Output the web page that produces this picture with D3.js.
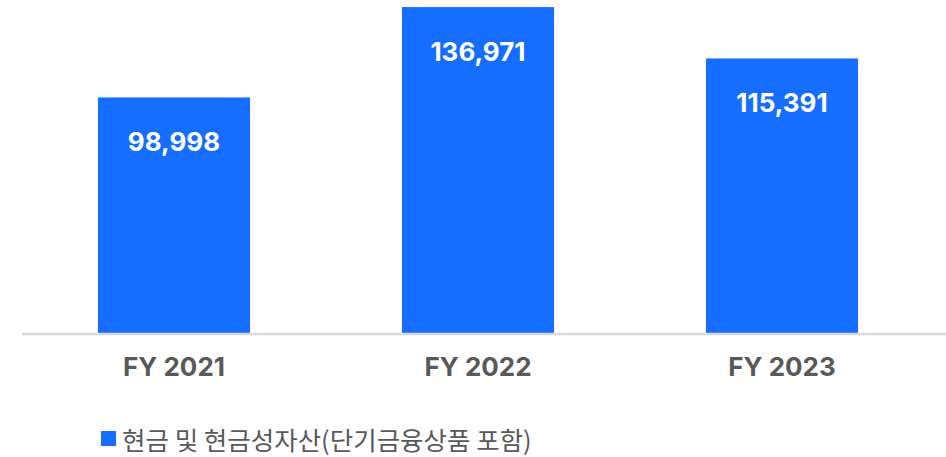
<!DOCTYPE html>
<html>
<head>
<meta charset="utf-8">
<script src="https://cdn.jsdelivr.net/npm/d3@7"></script>
<style>
  body { margin: 0; background: #fff; }
  svg { display: block; }
</style>
</head>
<body>
<div id="chart"></div>
<script>
// Data
const categories = ["FY 2021", "FY 2022", "FY 2023"];
const values = [98998, 136971, 115391];
const seriesName = "현금 및 현금성자산(단기금융상품 포함)";

const W = 946, H = 457;
const baseline = 333;
const barColor = "#156EFF";

const svg = d3.select("#chart")
    .append("svg")
    .attr("width", W)
    .attr("height", H);

// Scales
const x = d3.scaleBand()
    .domain(categories)
    .range([22, 934])
    .paddingInner(0.5)
    .paddingOuter(0.25);

const y = d3.scaleLinear()
    .domain([0, 137000])
    .range([baseline, 7]);

// Bars
svg.selectAll(".bar")
    .data(values)
    .enter().append("rect")
    .attr("class", "bar")
    .attr("x", (d, i) => x(categories[i]))
    .attr("y", d => y(d))
    .attr("width", x.bandwidth())
    .attr("height", d => baseline - y(d))
    .attr("fill", barColor);

// Value labels
svg.selectAll(".val")
    .data(values)
    .enter().append("text")
    .attr("class", "val")
    .attr("x", (d, i) => x(categories[i]) + x.bandwidth() / 2)
    .attr("y", d => y(d) + 54)
    .attr("text-anchor", "middle")
    .attr("fill", "#fff")
    .style("font-family", "Inter, 'Noto Sans', sans-serif")
    .style("font-weight", "700")
    .style("font-size", "26px")
    .text(d => d3.format(",")(d));

// Baseline
svg.append("line")
    .attr("x1", 22)
    .attr("x2", W)
    .attr("y1", baseline + 1)
    .attr("y2", baseline + 1)
    .attr("stroke", "#d9d9d9")
    .attr("stroke-width", 2.5);

// X axis labels
const xAxis = svg.append("g")
    .attr("transform", `translate(0,${baseline})`)
    .call(d3.axisBottom(x).tickSize(0).tickPadding(25));
xAxis.select(".domain").remove();
xAxis.selectAll("text")
    .attr("fill", "#595959")
    .style("font-family", "Inter, 'Noto Sans', sans-serif")
    .style("font-weight", "700")
    .style("font-size", "26px");

// Legend
const legend = svg.append("g").attr("transform", "translate(101,431)");
legend.append("rect")
    .attr("width", 15)
    .attr("height", 15)
    .attr("fill", barColor);
legend.append("text")
    .attr("x", 21)
    .attr("y", 19)
    .attr("fill", "#595959")
    .style("font-family", "'Noto Sans CJK KR', sans-serif")
    .style("font-size", "25.5px")
    .text(seriesName);
</script>
</body>
</html>
